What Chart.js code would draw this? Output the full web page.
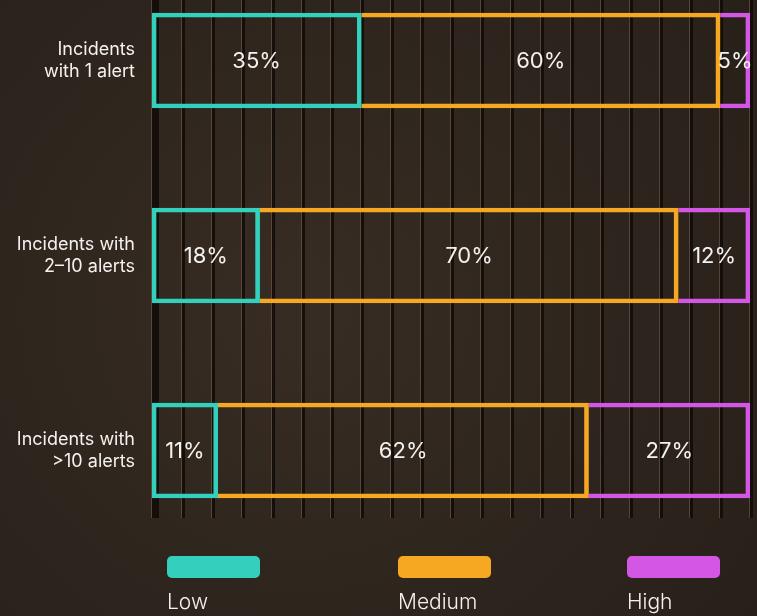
<!DOCTYPE html>
<html>
<head>
<meta charset="utf-8">
<script src="https://cdn.jsdelivr.net/npm/chart.js@4/dist/chart.umd.min.js"></script>
<style>
  html, body { margin: 0; padding: 0; background: #2f261f; }
  #wrap { width: 757px; height: 616px; position: relative; }
</style>
</head>
<body>
<div id="wrap"><canvas id="c" width="757" height="616"></canvas></div>
<script>
// ---- data ----
const categories = [
  ["Incidents", "with 1 alert"],
  ["Incidents with", "2–10 alerts"],
  ["Incidents with", ">10 alerts"]
];
const seriesNames = ["Low", "Medium", "High"];
const lowValues = [35, 18, 11];
const mediumValues = [60, 70, 62];
const highValues = [5, 12, 27];
const gridStep = 5; // vertical guide every 5%

// ---- styles ----
const colors = ["#33d1bd", "#f7a823", "#d456e4"];
const FONT = "Inter, 'Open Sans', sans-serif";

const toPoints = arr => arr.map((v, i) => ({ x: v, y: i }));

const bgPlugin = {
  id: 'bg',
  beforeDraw(chart) {
    const { ctx, width, height } = chart;
    ctx.save();
    ctx.fillStyle = '#30271f';
    ctx.fillRect(0, 0, width, height);
    const g = ctx.createRadialGradient(width * 0.4, height * 0.5, 40, width * 0.4, height * 0.5, 620);
    g.addColorStop(0, 'rgba(72,58,46,0.25)');
    g.addColorStop(1, 'rgba(0,0,0,0.22)');
    ctx.fillStyle = g;
    ctx.fillRect(0, 0, width, height);
    ctx.restore();
  }
};

const gridPlugin = {
  id: 'guides',
  beforeDatasetsDraw(chart) {
    const { ctx, chartArea, scales } = chart;
    const xs = scales.x;
    ctx.save();
    for (let v = 0; v <= 100; v += gridStep) {
      const px = Math.round(xs.getPixelForValue(v));
      ctx.fillStyle = 'rgba(125,96,72,0.55)';
      ctx.fillRect(px - 1, chartArea.top, 1, chartArea.bottom - chartArea.top);
      ctx.fillStyle = 'rgba(16,11,8,0.85)';
      ctx.fillRect(px, chartArea.top, v === 0 ? 7 : 3, chartArea.bottom - chartArea.top);
    }
    ctx.restore();
  }
};

const labelPlugin = {
  id: 'segLabels',
  afterDatasetsDraw(chart) {
    const { ctx } = chart;
    ctx.save();
    ctx.fillStyle = '#f4f1ee';
    ctx.font = `400 22px ${FONT}`;
    ctx.textAlign = 'center';
    ctx.textBaseline = 'middle';
    chart.data.datasets.forEach((ds, di) => {
      chart.getDatasetMeta(di).data.forEach((el, i) => {
        const cx = (el.x + el.base) / 2;
        ctx.fillText(ds.data[i].x + '%', cx, el.y + 1);
      });
    });
    ctx.restore();
  }
};

const legendPlugin = {
  id: 'customLegend',
  afterDraw(chart) {
    const { ctx } = chart;
    const xs = [167, 398, 627];
    ctx.save();
    chart.data.datasets.forEach((ds, i) => {
      ctx.fillStyle = ds.borderColor;
      ctx.beginPath();
      ctx.roundRect(xs[i], 556, 93, 22, 5);
      ctx.fill();
      ctx.fillStyle = '#f4f1ee';
      ctx.font = `300 21px ${FONT}`;
      ctx.textAlign = 'left';
      ctx.textBaseline = 'alphabetic';
      ctx.fillText(ds.label, xs[i], 609);
    });
    ctx.restore();
  }
};

const seriesData = [lowValues, mediumValues, highValues];

new Chart(document.getElementById('c'), {
  type: 'bar',
  data: {
    datasets: seriesNames.map((name, i) => ({
      label: name,
      data: toPoints(seriesData[i]),
      backgroundColor: 'rgba(0,0,0,0)',
      borderColor: colors[i],
      borderWidth: 4,
      borderSkipped: i === 0 ? false : 'left',
      barThickness: 95
    }))
  },
  options: {
    indexAxis: 'y',
    responsive: false,
    animation: false,
    layout: { padding: { left: 0, right: 7, top: 0, bottom: 98 } },
    plugins: { legend: { display: false }, tooltip: { enabled: false } },
    scales: {
      x: {
        type: 'linear', stacked: true, min: 0, max: 100,
        display: false
      },
      y: {
        type: 'linear', stacked: true, reverse: true, offset: false,
        min: -60.5 / 195, max: (518 - 60.5) / 195,
        afterBuildTicks(scale) { scale.ticks = categories.map((c, i) => ({ value: i })); },
        afterFit(scale) {
          scale.width = 152;
          scale.paddingTop = 0; scale.paddingBottom = 0;
          scale.paddingLeft = 0; scale.paddingRight = 0;
        },
        grid: { display: false, offset: false },
        border: { display: false },
        ticks: {
          padding: 9,
          color: '#f4f1ee',
          font: { family: FONT, size: 18, weight: 400, lineHeight: 1.22 },
          callback: v => categories[v]
        }
      }
    }
  },
  plugins: [bgPlugin, gridPlugin, labelPlugin, legendPlugin]
});
</script>
</body>
</html>
